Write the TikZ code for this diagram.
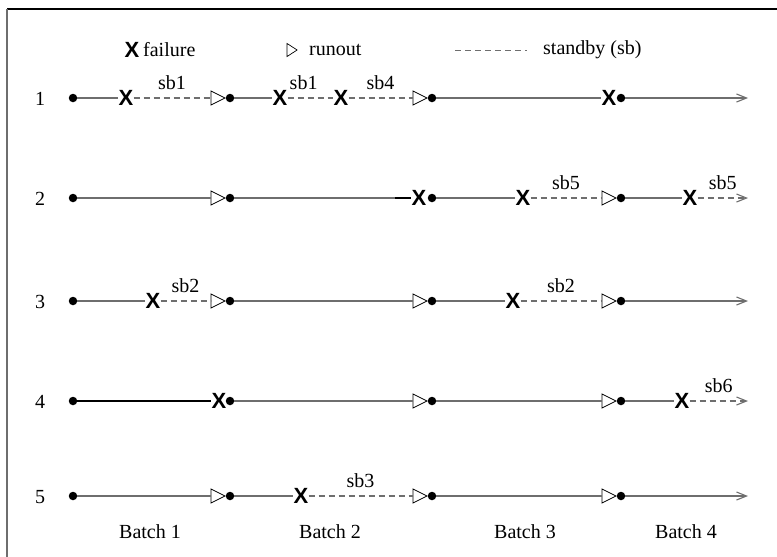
\documentclass[tikz,border=0pt]{standalone}
\usepackage{fontspec}
\setmainfont{Liberation Serif}
\setsansfont{Liberation Sans}
\usetikzlibrary{shapes.geometric,arrows.meta}
\definecolor{lgray}{RGB}{110,110,110}
\tikzset{
  dotn/.style={circle,fill=black,inner sep=0pt,minimum size=8.5pt},
  xm/.style={inner sep=0pt,font=\fontsize{22}{24}\sffamily\bfseries},
  runout/.style={isosceles triangle,draw=black,fill=white,line width=0.8pt,inner sep=0pt,
     minimum height=14pt,minimum width=14pt,isosceles triangle stretches,anchor=apex},
  sol/.style={draw=lgray,line width=1.5pt},
  dsh/.style={draw=lgray,line width=1.4pt,dash pattern=on 6pt off 4pt},
  arr/.style={-{Straight Barb[length=10pt,width=8pt,line width=1.1pt]}},
  lbl/.style={midway,above=8pt,inner sep=0pt,font=\fontsize{20}{22}\selectfont,text=black},
  txt/.style={inner sep=0pt,font=\fontsize{20}{22}\selectfont},
}
\begin{document}
\begin{tikzpicture}[x=1pt,y=-1pt]
\useasboundingbox (0,0) rectangle (777,557);
% frame
\draw[black,line width=1.5pt] (7,9) -- (777,9);
\draw[lgray,line width=2pt] (7,9) -- (7,557);
% legend
\node[xm] (lx) at (132,50) {X};
\node[txt,anchor=west] (lf) at (143,50) {failure};
\node[runout,minimum height=10pt,minimum width=13pt,line width=0.7pt] (lt) at (298,50) {};
\node[txt,anchor=west] (lr) at (309,50) {runout};
\coordinate (ld1) at (455,50);
\coordinate (ld2) at (527,50);
\draw[lgray,line width=1pt,dash pattern=on 6pt off 4pt] (ld1) -- (ld2);
\node[txt,anchor=west] (ls) at (543,50) {standby (sb)};
% row labels
\node[txt] (n1) at (40,99) {1};
\node[txt] (n2) at (40,199) {2};
\node[txt] (n3) at (40,302) {3};
\node[txt] (n4) at (40,402) {4};
\node[txt] (n5) at (40,497) {5};
% ---------- row 1
\node[dotn] (d11) at (73,98) {};
\node[xm] (x11) at (126,98) {X};
\node[runout] (t11) at (226,98) {};
\node[dotn] (d12) at (230,98) {};
\node[xm] (x12) at (280,98) {X};
\node[xm] (x13) at (341,98) {X};
\node[runout] (t12) at (428,98) {};
\node[dotn] (d13) at (432,98) {};
\node[xm] (x14) at (609,98) {X};
\node[dotn] (d14) at (621,98) {};
\coordinate (e1) at (748,98);
\draw[sol] (d11) -- (x11);
\draw[dsh] (x11) -- node[lbl]{sb1} (t11);
\draw[sol] (d12) -- (x12);
\draw[dsh] (x12) -- node[lbl,pos=0.35]{sb1} (x13);
\draw[dsh] (x13) -- node[lbl]{sb4} (t12);
\draw[sol] (d13) -- (x14);
\draw[sol,arr] (d14) -- (e1);
% ---------- row 2
\node[dotn] (d21) at (73,198) {};
\node[runout] (t21) at (226,198) {};
\node[dotn] (d22) at (230,198) {};
\coordinate (c21) at (395,198);
\node[xm] (x21) at (419,198) {X};
\node[dotn] (d23) at (432,198) {};
\node[xm] (x22) at (523,198) {X};
\node[runout] (t22) at (617,198) {};
\node[dotn] (d24) at (621,198) {};
\node[xm] (x23) at (690,198) {X};
\coordinate (e2) at (748,198);
\draw[sol] (d21) -- (t21);
\draw[sol] (d22) -- (c21);
\draw[draw=black,line width=1.5pt] (c21) -- (x21);
\draw[sol] (d23) -- (x22);
\draw[dsh] (x22) -- node[lbl]{sb5} (t22);
\draw[sol] (d24) -- (x23);
\draw[dsh,arr] (x23) -- node[lbl]{sb5} (e2);
% ---------- row 3
\node[dotn] (d31) at (73,301) {};
\node[xm] (x31) at (153,301) {X};
\node[runout] (t31) at (226,301) {};
\node[dotn] (d32) at (230,301) {};
\node[runout] (t32) at (428,301) {};
\node[dotn] (d33) at (432,301) {};
\node[xm] (x32) at (513,301) {X};
\node[runout] (t33) at (617,301) {};
\node[dotn] (d34) at (621,301) {};
\coordinate (e3) at (748,301);
\draw[sol] (d31) -- (x31);
\draw[dsh] (x31) -- node[lbl]{sb2} (t31);
\draw[sol] (d32) -- (t32);
\draw[sol] (d33) -- (x32);
\draw[dsh] (x32) -- node[lbl]{sb2} (t33);
\draw[sol,arr] (d34) -- (e3);
% ---------- row 4
\node[dotn] (d41) at (73,401) {};
\node[xm] (x41) at (219,401) {X};
\node[dotn] (d42) at (230,401) {};
\node[runout] (t41) at (428,401) {};
\node[dotn] (d43) at (432,401) {};
\node[runout] (t42) at (617,401) {};
\node[dotn] (d44) at (621,401) {};
\node[xm] (x42) at (682,401) {X};
\coordinate (e4) at (748,401);
\draw[draw=black,line width=1.8pt] (d41) -- (x41);
\draw[sol] (d42) -- (t41);
\draw[sol] (d43) -- (t42);
\draw[sol] (d44) -- (x42);
\draw[dsh,arr] (x42) -- node[lbl]{sb6} (e4);
% ---------- row 5
\node[dotn] (d51) at (73,496) {};
\node[runout] (t51) at (226,496) {};
\node[dotn] (d52) at (230,496) {};
\node[xm] (x51) at (301,496) {X};
\node[runout] (t52) at (428,496) {};
\node[dotn] (d53) at (432,496) {};
\node[runout] (t53) at (617,496) {};
\node[dotn] (d54) at (621,496) {};
\coordinate (e5) at (748,496);
\draw[sol] (d51) -- (t51);
\draw[sol] (d52) -- (x51);
\draw[dsh] (x51) -- node[lbl]{sb3} (t52);
\draw[sol] (d53) -- (t53);
\draw[sol,arr] (d54) -- (e5);
% batch labels
\node[txt] (b1) at (150,532) {Batch 1};
\node[txt] (b2) at (330,532) {Batch 2};
\node[txt] (b3) at (525,532) {Batch 3};
\node[txt] (b4) at (686,532) {Batch 4};
\end{tikzpicture}
\end{document}
